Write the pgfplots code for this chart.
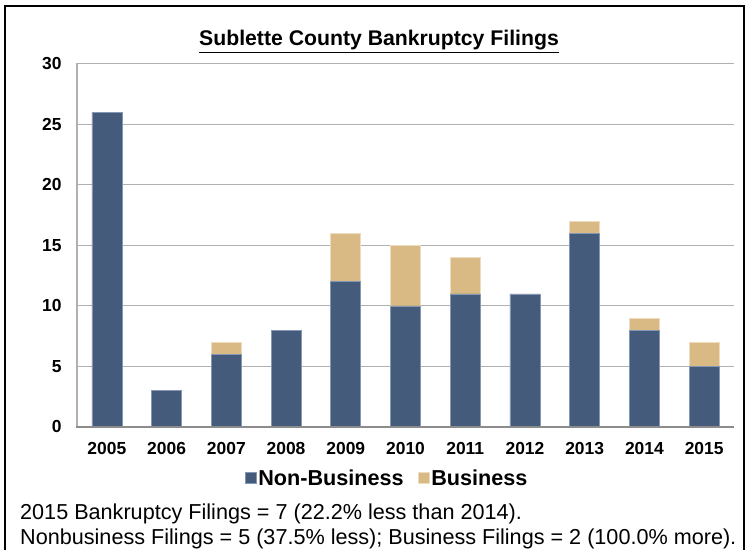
\documentclass[border=0pt]{standalone}
\usepackage{pgfplots}
\pgfplotsset{compat=1.18}
\usepackage{fontspec}
\setmainfont{Liberation Sans}
\definecolor{nonbus}{HTML}{445B7B}
\definecolor{nonbusedge}{HTML}{8497B3}
\definecolor{bus}{HTML}{D9BA85}
\definecolor{busedge}{HTML}{EDDCBD}
\definecolor{gridgray}{HTML}{B0B0B0}
\definecolor{axisgray}{HTML}{8C8C8C}
\begin{document}
\begin{tikzpicture}[x=1bp,y=1bp]
\path[use as bounding box] (0,0) rectangle (747,550);
% outer frame (no bottom edge)
\draw[black,line width=2bp] (5,0) -- (5,544) -- (744,544) -- (744,0);
\begin{axis}[
  at={(77bp,123bp)}, anchor=south west,
  scale only axis,
  width=657bp, height=363bp,
  ybar stacked,
  bar width=30bp,
  xmin=-0.5, xmax=10.5,
  ymin=0, ymax=30,
  ytick={0,5,...,30},
  xtick=data,
  xticklabels={2005,2006,2007,2008,2009,2010,2011,2012,2013,2014,2015},
  axis x line*=bottom, axis y line*=left,
  axis line style={draw=none},
  major tick length=0,
  ymajorgrids,
  grid style={gridgray, line width=1bp},
  tick label style={font=\bfseries\fontsize{17.5}{17.5}\selectfont},
  /pgf/number format/assume math mode=true,
  yticklabel style={xshift=-12bp},
  xticklabel style={yshift=-12bp},
  legend columns=2,
  legend style={at={(0.472,-0.141)}, anchor=center, draw=none, fill=none,
    font=\bfseries\fontsize{21.7}{21.7}\selectfont,
    /tikz/every odd column/.append style={column sep=0bp},
    /tikz/every even column/.append style={column sep=12bp},
    nodes={inner xsep=2bp}},
  legend image code/.code={\fill[#1] (0bp,-5.5bp) rectangle (11bp,5.5bp);},
]
\addplot[fill=nonbus, draw=nonbusedge, line width=0.6bp] coordinates {
(0,26) (1,3) (2,6) (3,8) (4,12) (5,10) (6,11) (7,11) (8,16) (9,8) (10,5)
};
\addplot[fill=bus, draw=busedge, line width=0.6bp] coordinates {
(0,0) (1,0) (2,1) (3,0) (4,4) (5,5) (6,3) (7,0) (8,1) (9,1) (10,2)
};
\legend{Non-Business, Business}
\end{axis}
% axis lines
\draw[gridgray, line width=1.2bp] (77,123) -- (77,487);
\draw[axisgray, line width=2bp] (76,123) -- (734,123);
% title
\node[anchor=base, inner sep=0, font=\bfseries\fontsize{21.3}{21.3}\selectfont] at (379,504) {\underline{Sublette County Bankruptcy Filings}};
% notes
\node[anchor=base west, inner sep=0, font=\fontsize{21.7}{21.7}\selectfont] at (20,30) {2015 Bankruptcy Filings = 7 (22.2\% less than 2014).};
\node[anchor=base west, inner sep=0, font=\fontsize{21.7}{21.7}\selectfont] at (20,5) {Nonbusiness Filings = 5 (37.5\% less); Business Filings = 2 (100.0\% more).};
\end{tikzpicture}
\end{document}
